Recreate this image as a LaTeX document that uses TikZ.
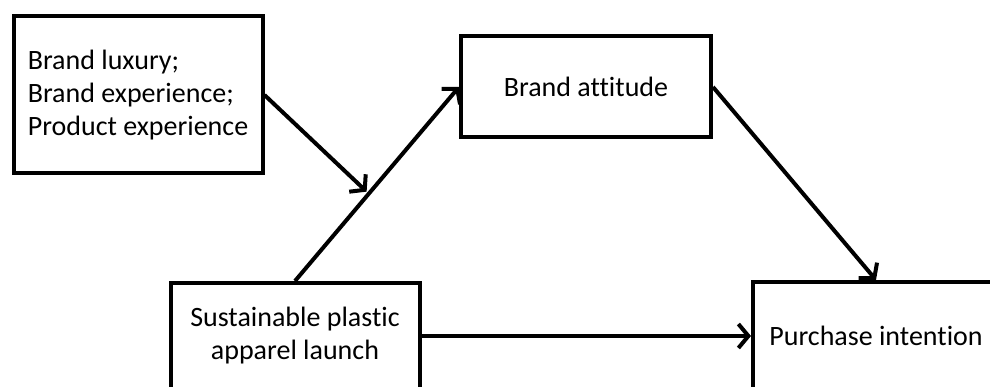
\documentclass[tikz,border=0pt]{standalone}
\usepackage{fontspec}
\setmainfont{Carlito}[Ligatures=NoCommon]
\usepackage{tikz}
\usetikzlibrary{arrows.meta}

\begin{document}
\begin{tikzpicture}[
x=1pt, y=-1pt,
>={Straight Barb[length=10pt,width=24pt]},
box/.style={
draw,
line width=4pt,
align=center,
inner sep=0pt,
font=\fontsize{28}{33}\selectfont
},
link/.style={
->,
line width=4pt
}
]
\useasboundingbox (0,0) rectangle (990,387);
\clip (0,0) rectangle (990,387);

% Left
\node[box, minimum width=249pt, minimum height=157pt, align=left]
(factors) at (138,95) {Brand luxury;\\Brand experience;\\Product experience};

% Top
\node[box, minimum width=250pt, minimum height=101pt] (attitude) at (586,87) {Brand attitude};

% Bottom row
\node[box, minimum width=249pt, minimum height=106pt] (launch) at (295,336)
{Sustainable plastic\\apparel launch};

\node[box, minimum width=246pt, minimum height=108pt] (intention) at (876,336)
{Purchase intention};

% Connections
\draw[link] (launch.north) -- coordinate[pos=0.45] (meet) (attitude.west);
\draw[link, shorten >=3pt] (factors.east) -- (meet);
\draw[link] (attitude.east) -- (intention.north);
\draw[link] (launch.east) -- (intention.west);

\end{tikzpicture}
\end{document}
